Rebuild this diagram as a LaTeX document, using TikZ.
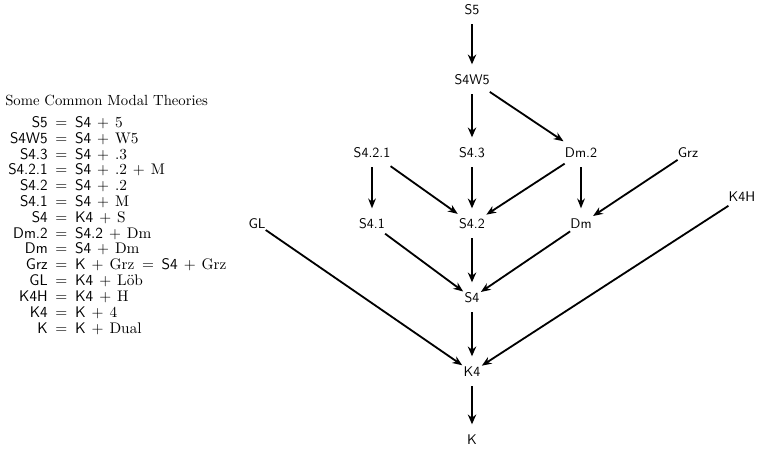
\documentclass[tikz,border=0pt]{standalone}
\usetikzlibrary{arrows.meta}
\begin{document}
\begin{tikzpicture}[x=0.714pt,y=-0.714pt,
  lab/.style={font=\sffamily, inner sep=0pt, minimum width=10pt, minimum height=20pt},
  thin arrow/.style={line width=1.3pt, -{Stealth[length=7pt,width=5.5pt]}, shorten >=1pt},
  spine arrow/.style={line width=2pt, -{Stealth[length=7pt,width=6pt]}, shorten >=1pt}]
\useasboundingbox (0,0) rectangle (758,448);
% title and table
\node[anchor=west, inner sep=0pt, font=\fontsize{10.5}{12}\selectfont] (title) at (5,100) {Some Common Modal Theories};
\node[anchor=north west, inner sep=0pt] (table) at (8,116) {%
  \fontsize{11}{11.3}\selectfont
  \medmuskip=7mu \thickmuskip=9mu
  \begin{tabular}{@{}r@{\hspace{5.5pt}$=$\hspace{5.5pt}}l@{}}
  \textsf{S5} & $\mathsf{S4}+5$\\
  \textsf{S4W5} & $\mathsf{S4}+\mathrm{W5}$\\
  \textsf{S4.3} & $\mathsf{S4}+.3$\\
  \textsf{S4.2.1} & $\mathsf{S4}+.2+\mathrm{M}$\\
  \textsf{S4.2} & $\mathsf{S4}+.2$\\
  \textsf{S4.1} & $\mathsf{S4}+\mathrm{M}$\\
  \textsf{S4} & $\mathsf{K4}+\mathrm{S}$\\
  \textsf{Dm.2} & $\mathsf{S4.2}+\mathrm{Dm}$\\
  \textsf{Dm} & $\mathsf{S4}+\mathrm{Dm}$\\
  \textsf{Grz} & $\mathsf{K}+\mathrm{Grz}=\mathsf{S4}+\mathrm{Grz}$\\
  \textsf{GL} & $\mathsf{K4}+\mathrm{L\ddot{o}b}$\\
  \textsf{K4H} & $\mathsf{K4}+\mathrm{H}$\\
  \textsf{K4} & $\mathsf{K}+4$\\
  \textsf{K} & $\mathsf{K}+\mathrm{Dual}$
  \end{tabular}};
% nodes
\node[lab] (S5) at (472,10) {S5};
\node[lab] (S4W5) at (472,80) {S4W5};
\node[lab] (S421) at (372,153) {S4.2.1};
\node[lab] (S43) at (472,153) {S4.3};
\node[lab] (Dm2) at (581,153) {Dm.2};
\node[lab] (Grz) at (688,153) {Grz};
\node[lab] (K4H) at (742,197) {K4H};
\node[lab] (GL) at (257,224) {GL};
\node[lab] (S41) at (372,224) {S4.1};
\node[lab] (S42) at (472,224) {S4.2};
\node[lab] (Dm) at (581,224) {Dm};
\node[lab] (S4) at (472,298) {S4};
\node[lab] (K4) at (472,372) {K4};
\node[lab] (K) at (472,440) {K};
% edges
\draw[spine arrow] (S5) -- (S4W5);
\draw[spine arrow] (S4W5) -- (S43);
\draw[thin arrow] (S4W5) -- (Dm2);
\draw[thin arrow] (S421) -- (S41);
\draw[thin arrow] (S421) -- (S42);
\draw[spine arrow] (S43) -- (S42);
\draw[thin arrow] (Dm2) -- (S42);
\draw[thin arrow] (Dm2) -- (Dm);
\draw[thin arrow] (Grz) -- (Dm);
\draw[thin arrow] (GL) -- (K4);
\draw[thin arrow] (S41) -- (S4);
\draw[spine arrow] (S42) -- (S4);
\draw[thin arrow] (Dm) -- (S4);
\draw[thin arrow] (K4H) -- (K4);
\draw[spine arrow] (S4) -- (K4);
\draw[spine arrow] (K4) -- (K);
\end{tikzpicture}
\end{document}
